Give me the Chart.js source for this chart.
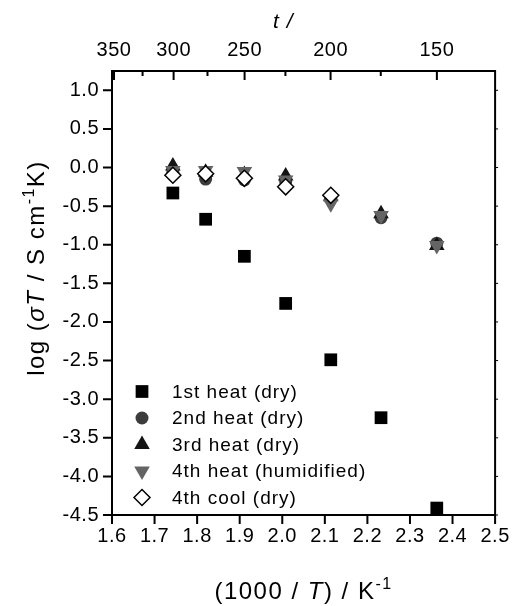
<!DOCTYPE html>
<html lang="en">
<head>
  <meta charset="UTF-8">
  <title>Conductivity vs 1000/T</title>
  <script src="https://cdn.jsdelivr.net/npm/chart.js@4.4.1/dist/chart.umd.min.js"></script>
  <style>
    body { margin: 0; background: #fff; }
    #wrap { width: 518px; height: 606px; }
  </style>
</head>
<body>
  <div id="wrap"><canvas id="chart"></canvas></div>
  <script>
    // 1000/T positions of the measurements (K^-1)
    const invT = [1.743, 1.820, 1.911, 2.008, 2.114, 2.232, 2.363];
    // log(sigma T / S cm^-1 K) for each run
    const heat1 = [-0.33, -0.67, -1.15, -1.76, -2.49, -3.24, -4.41];
    const heat2 = [-0.06, -0.15, -0.16, -0.18, -0.40, -0.65, -0.98];
    const heat3 = [0.02, -0.06, -0.09, -0.11, -0.38, -0.60, -1.01];
    const heat4 = [-0.04, -0.04, -0.05, -0.16, -0.47, -0.62, -1.01];
    const cool4 = [-0.10, -0.08, -0.14, -0.25, -0.36];
    const seriesNames = ['1st heat (dry)', '2nd heat (dry)', '3rd heat (dry)', '4th heat (humidified)', '4th cool (dry)'];

    const xTicks = [1.6, 1.7, 1.8, 1.9, 2.0, 2.1, 2.2, 2.3, 2.4, 2.5];
    const yTicks = [-4.5, -4.0, -3.5, -3.0, -2.5, -2.0, -1.5, -1.0, -0.5, 0.0, 0.5, 1.0];
    const tTicks = [350, 300, 250, 200, 150];   // top axis, t / °C
    const tMinor = [325, 275, 225, 175];

    const toInv = t => 1000 / (t + 273.15);
    const pts = ys => ys.map((y, i) => ({ x: invT[i], y: y }));

    const styles = [
      { pointStyle: 'rect', radius: 9, rotation: 0, fill: '#000000', stroke: '#000000', bw: 0 },
      { pointStyle: 'circle', radius: 6.5, rotation: 0, fill: '#3c3c3c', stroke: '#3c3c3c', bw: 0 },
      { pointStyle: 'triangle', radius: 9, rotation: 0, fill: '#141414', stroke: '#141414', bw: 0 },
      { pointStyle: 'triangle', radius: 9, rotation: 180, fill: '#646464', stroke: '#646464', bw: 0 },
      { pointStyle: 'rectRot', radius: 8, rotation: 0, fill: '#ffffff', stroke: '#000000', bw: 1.5 }
    ];
    const allData = [heat1, heat2, heat3, heat4, cool4];

    const datasets = allData.map((d, i) => ({
      label: seriesNames[i],
      data: pts(d),
      pointStyle: styles[i].pointStyle,
      pointRadius: styles[i].radius,
      pointHoverRadius: styles[i].radius,
      rotation: styles[i].rotation,
      backgroundColor: styles[i].fill,
      borderColor: styles[i].stroke,
      borderWidth: styles[i].bw,
      showLine: false,
      order: 4 - i
    }));

    const tickFont = { family: 'Liberation Sans, Arial, sans-serif', size: 20 };

    const frame = {
      id: 'frame',
      beforeDraw(chart) {
        chart.ctx.letterSpacing = '0.5px';
      },
      afterDraw(chart) {
        const { ctx, chartArea: a, scales } = chart;
        ctx.save();
        ctx.letterSpacing = '0px';
        ctx.strokeStyle = '#000';
        ctx.lineWidth = 2;
        ctx.strokeRect(a.left, a.top, a.right - a.left, a.bottom - a.top);
        ctx.beginPath();
        xTicks.forEach(v => {
          const px = scales.x.getPixelForValue(v);
          ctx.moveTo(px, a.bottom); ctx.lineTo(px, a.bottom + 9);
        });
        yTicks.forEach(v => {
          const py = scales.y.getPixelForValue(v);
          ctx.moveTo(a.left, py); ctx.lineTo(a.left - 9, py);
        });
        tTicks.forEach(t => {
          const px = scales.x2.getPixelForValue(toInv(t));
          ctx.moveTo(px, a.top); ctx.lineTo(px, a.top + 9);
        });
        tMinor.forEach(t => {
          const px = scales.x2.getPixelForValue(toInv(t));
          ctx.moveTo(px, a.top); ctx.lineTo(px, a.top + 5);
        });
        ctx.stroke();
        ctx.lineWidth = 1;
        ctx.beginPath();
        yTicks.forEach(v => {
          const py = scales.y.getPixelForValue(v);
          ctx.moveTo(a.right, py); ctx.lineTo(a.right + 3, py);
        });
        ctx.stroke();

        // axis titles
        ctx.fillStyle = '#000';
        ctx.textBaseline = 'alphabetic';
        const reg = '24px "Liberation Sans", Arial, sans-serif';
        const ita = 'italic 24px "Liberation Sans", Arial, sans-serif';
        const sup = '16px "Liberation Sans", Arial, sans-serif';
        const rich = (parts, cx, cy) => {
          ctx.letterSpacing = '1.5px';
          let w = 0;
          parts.forEach(p => { ctx.font = p.f; w += ctx.measureText(p.t).width; });
          let x = cx - w / 2;
          parts.forEach(p => {
            ctx.font = p.f;
            ctx.fillText(p.t, x, cy + (p.dy || 0));
            x += ctx.measureText(p.t).width;
          });
        };
        rich([
          { t: '(1000 / ', f: reg }, { t: 'T', f: ita }, { t: ') / K', f: reg }, { t: '-1', f: sup, dy: -10 }
        ], (a.left + a.right) / 2, 599);

        ctx.save();
        ctx.translate(52, 268);
        ctx.rotate(-Math.PI / 2);
        rich([
          { t: 'log (', f: reg }, { t: '\u03c3T', f: ita }, { t: ' / S cm', f: reg },
          { t: '-1', f: sup, dy: -10 }, { t: 'K)', f: reg }
        ], 0, -8);
        ctx.restore();

        ctx.letterSpacing = '1px';
        ctx.font = 'italic 21px "Liberation Sans", Arial, sans-serif';
        ctx.textAlign = 'left';
        ctx.fillText('t /', 273, 28);
        ctx.restore();
      },
      afterDatasetsDraw(chart) {
        // legend inside the plot, lower left
        const ctx = chart.ctx;
        ctx.save();
        ctx.letterSpacing = '1px';
        ctx.font = '19px "Liberation Sans", Arial, sans-serif';
        ctx.textBaseline = 'middle';
        ctx.textAlign = 'left';
        seriesNames.forEach((name, i) => {
          const y = 391.5 + i * 26.5;
          const s = styles[i];
          ctx.fillStyle = s.fill;
          ctx.strokeStyle = s.stroke;
          ctx.lineWidth = s.bw;
          Chart.helpers.drawPoint(ctx, { pointStyle: s.pointStyle, radius: s.radius, rotation: s.rotation, borderWidth: s.bw }, 142, y);
          ctx.fillStyle = '#000';
          ctx.fillText(name, 172, y + 1);
        });
        ctx.restore();
      }
    };

    new Chart(document.getElementById('chart'), {
      type: 'scatter',
      data: { datasets: datasets },
      options: {
        responsive: true,
        maintainAspectRatio: false,
        animation: false,
        layout: { padding: { left: 0, right: 20, top: 0, bottom: 0 } },
        plugins: { legend: { display: false }, tooltip: { enabled: false } },
        scales: {
          x: {
            type: 'linear', position: 'bottom', min: 1.6, max: 2.5,
            afterBuildTicks: s => { s.ticks = xTicks.map(v => ({ value: v })); },
            afterFit: s => { s.height = 91; },
            ticks: { callback: v => v.toFixed(1), padding: 9, font: tickFont, color: '#000', autoSkip: false, maxRotation: 0 },
            grid: { display: false, drawTicks: false },
            border: { display: false }
          },
          x2: {
            type: 'linear', position: 'top', min: 1.6, max: 2.5,
            afterBuildTicks: s => { s.ticks = tTicks.map(t => ({ value: toInv(t) })); },
            afterFit: s => { s.height = 71; },
            ticks: { callback: (v, i) => String(tTicks[i]), padding: 9, font: tickFont, color: '#000', autoSkip: false, maxRotation: 0 },
            grid: { display: false, drawTicks: false },
            border: { display: false }
          },
          y: {
            type: 'linear', position: 'left', min: -4.5, max: 1.25,
            afterBuildTicks: s => { s.ticks = yTicks.map(v => ({ value: v })); },
            afterFit: s => { s.height = s.height; s.width = 112; },
            ticks: { callback: v => v.toFixed(1), padding: 13, font: tickFont, color: '#000', autoSkip: false },
            grid: { display: false, drawTicks: false },
            border: { display: false }
          }
        }
      },
      plugins: [frame]
    });
  </script>
</body>
</html>
